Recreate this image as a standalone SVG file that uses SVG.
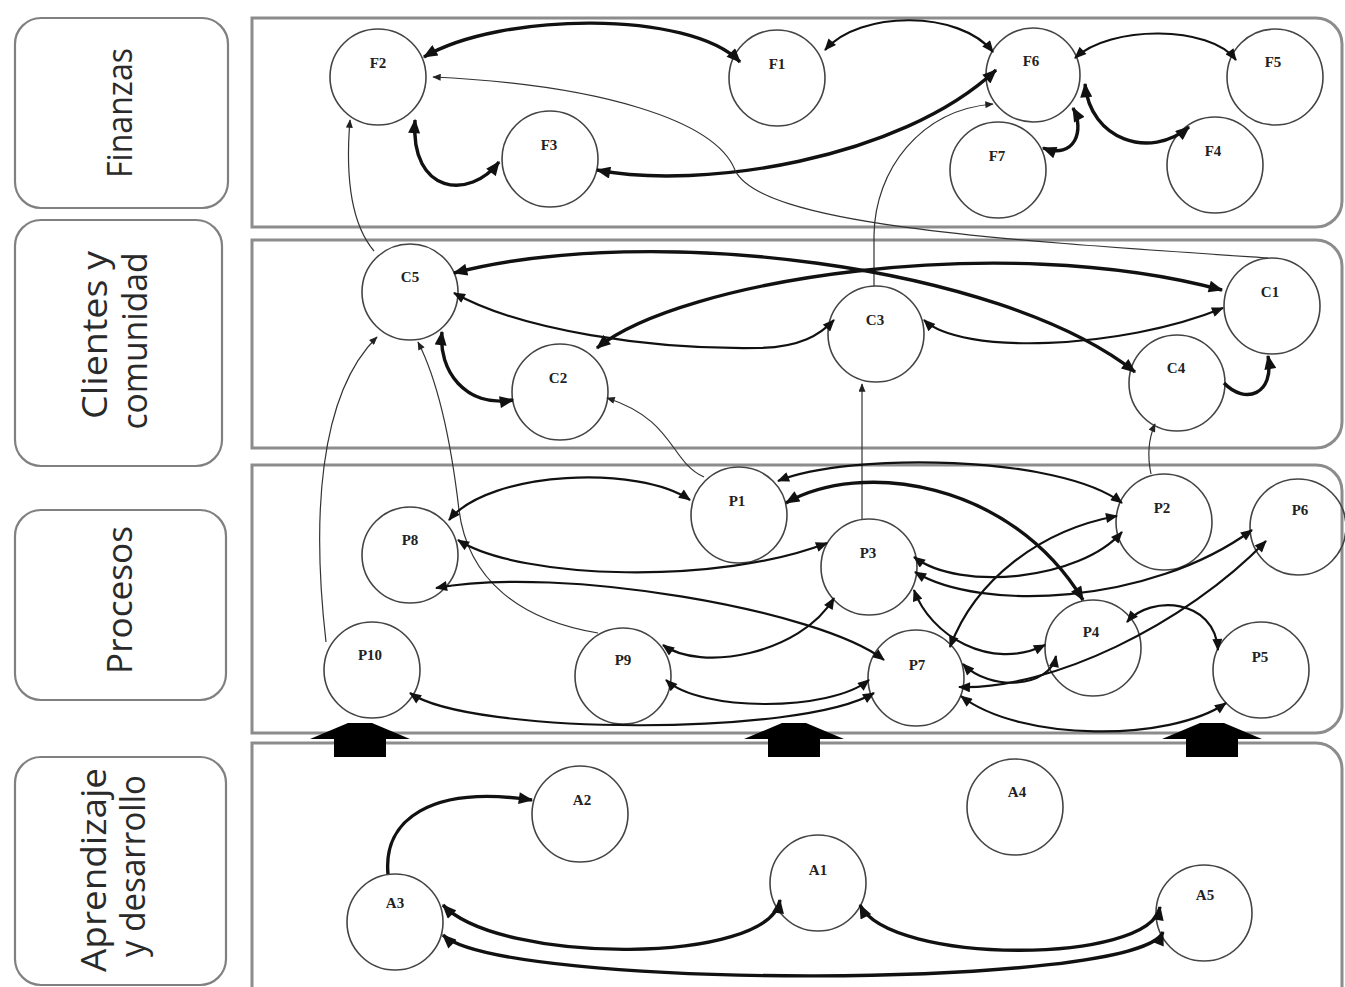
<svg xmlns="http://www.w3.org/2000/svg" width="1345" height="987" viewBox="0 0 1345 987">
<style>
.lanebox{fill:#fff;stroke:#808080;stroke-width:2.2}
.panel{fill:none;stroke:#8c8c8c;stroke-width:3}
.lane{font-family:"Open Sans","Liberation Sans",sans-serif;font-size:34px;fill:#2a2a2a}
.node circle{fill:none;stroke:#444;stroke-width:1.6}
.node text{font-family:"Liberation Serif","Times New Roman",serif;font-weight:bold;font-size:15px;fill:#222;text-anchor:middle}
.k{fill:none;stroke:#111;stroke-width:3.4}
.m{fill:none;stroke:#111;stroke-width:2.2}
.t{fill:none;stroke:#333;stroke-width:1.2}
.bi{marker-start:url(#ah);marker-end:url(#ah)}
.kbi{marker-start:url(#ahk);marker-end:url(#ahk)}
.kone{marker-end:url(#ahk)}
.tn{marker-end:url(#at)}
.big{fill:#000}
</style>
<defs>
<marker id="ah" viewBox="0 0 12 10" refX="11" refY="5" markerWidth="13" markerHeight="10" markerUnits="userSpaceOnUse" orient="auto-start-reverse"><path d="M0,0 L12,5 L0,10 z" fill="#111"/></marker>
<marker id="ahk" viewBox="0 0 12 10" refX="11" refY="5" markerWidth="16" markerHeight="12" markerUnits="userSpaceOnUse" orient="auto-start-reverse"><path d="M0,0 L12,5 L0,10 z" fill="#111"/></marker>
<marker id="at" viewBox="0 0 12 10" refX="11" refY="5" markerWidth="9" markerHeight="7" markerUnits="userSpaceOnUse" orient="auto-start-reverse"><path d="M0,0 L12,5 L0,10 z" fill="#222"/></marker>
<polygon id="bigarrow" class="big" points="-12,0 12,0 50,16 26,16 26,34 -26,34 -26,16 -50,16"/>
</defs>
<rect width="1345" height="987" fill="#fff"/>

<g id="lane-labels">
<g id="lane-finanzas"><rect class="lanebox" x="15" y="18" width="213" height="190" rx="26"/>
<text class="lane" transform="translate(132,113) rotate(-90)" text-anchor="middle" textLength="130" lengthAdjust="spacingAndGlyphs">Finanzas</text></g>
<g id="lane-clientes"><rect class="lanebox" x="15" y="220" width="207" height="246" rx="26"/>
<text class="lane" transform="translate(107,335) rotate(-90)" text-anchor="middle" textLength="168" lengthAdjust="spacingAndGlyphs">Clientes y</text>
<text class="lane" transform="translate(147,341) rotate(-90)" text-anchor="middle" textLength="177" lengthAdjust="spacingAndGlyphs">comunidad</text></g>
<g id="lane-procesos"><rect class="lanebox" x="15" y="510" width="211" height="190" rx="26"/>
<text class="lane" transform="translate(132,600) rotate(-90)" text-anchor="middle" textLength="148" lengthAdjust="spacingAndGlyphs">Procesos</text></g>
<g id="lane-aprendizaje"><rect class="lanebox" x="15" y="757" width="211" height="228" rx="26"/>
<text class="lane" transform="translate(106,870) rotate(-90)" text-anchor="middle" textLength="204" lengthAdjust="spacingAndGlyphs">Aprendizaje</text>
<text class="lane" transform="translate(145,866) rotate(-90)" text-anchor="middle" textLength="182" lengthAdjust="spacingAndGlyphs">y desarrollo</text></g>
</g>

<g id="panels">
<path class="panel" d="M252,18 H1316 A26,26 0 0 1 1342,44 V201 A26,26 0 0 1 1316,227 H252 Z"/>
<path class="panel" d="M252,240 H1316 A26,26 0 0 1 1342,266 V422 A26,26 0 0 1 1316,448 H252 Z"/>
<path class="panel" d="M252,465 H1316 A26,26 0 0 1 1342,491 V707 A26,26 0 0 1 1316,733 H252 Z"/>
<path class="panel" d="M252,1010 V743 H1316 A26,26 0 0 1 1342,769 V1010"/>
</g>

<g id="nodes">
<g id="F2" class="node"><circle cx="378" cy="77" r="48"/><text x="378" y="68">F2</text></g>
<g id="F1" class="node"><circle cx="777" cy="78" r="48"/><text x="777" y="69">F1</text></g>
<g id="F6" class="node"><circle cx="1033" cy="75" r="47"/><text x="1031" y="66">F6</text></g>
<g id="F5" class="node"><circle cx="1275" cy="77" r="48"/><text x="1273" y="67">F5</text></g>
<g id="F3" class="node"><circle cx="550" cy="159" r="48"/><text x="549" y="150">F3</text></g>
<g id="F7" class="node"><circle cx="998" cy="170" r="48"/><text x="997" y="161">F7</text></g>
<g id="F4" class="node"><circle cx="1215" cy="165" r="48"/><text x="1213" y="156">F4</text></g>
<g id="C5" class="node"><circle cx="410" cy="292" r="48"/><text x="410" y="282">C5</text></g>
<g id="C2" class="node"><circle cx="560" cy="392" r="48"/><text x="558" y="383">C2</text></g>
<g id="C3" class="node"><circle cx="876" cy="334" r="48"/><text x="875" y="325">C3</text></g>
<g id="C1" class="node"><circle cx="1272" cy="306" r="48"/><text x="1270" y="297">C1</text></g>
<g id="C4" class="node"><circle cx="1177" cy="383" r="48"/><text x="1176" y="373">C4</text></g>
<g id="P1" class="node"><circle cx="739" cy="515" r="48"/><text x="737" y="506">P1</text></g>
<g id="P2" class="node"><circle cx="1164" cy="522" r="48"/><text x="1162" y="513">P2</text></g>
<g id="P6" class="node"><circle cx="1298" cy="527" r="48"/><text x="1300" y="515">P6</text></g>
<g id="P8" class="node"><circle cx="410" cy="555" r="48"/><text x="410" y="545">P8</text></g>
<g id="P3" class="node"><circle cx="869" cy="567" r="48"/><text x="868" y="558">P3</text></g>
<g id="P4" class="node"><circle cx="1093" cy="648" r="48"/><text x="1091" y="637">P4</text></g>
<g id="P10" class="node"><circle cx="372" cy="670" r="48"/><text x="370" y="660">P10</text></g>
<g id="P9" class="node"><circle cx="623" cy="676" r="48"/><text x="623" y="665">P9</text></g>
<g id="P7" class="node"><circle cx="916" cy="678" r="48"/><text x="917" y="670">P7</text></g>
<g id="P5" class="node"><circle cx="1261" cy="670" r="48"/><text x="1260" y="662">P5</text></g>
<g id="A2" class="node"><circle cx="580" cy="814" r="48"/><text x="582" y="805">A2</text></g>
<g id="A4" class="node"><circle cx="1015" cy="807" r="48"/><text x="1017" y="797">A4</text></g>
<g id="A1" class="node"><circle cx="818" cy="883" r="48"/><text x="818" y="875">A1</text></g>
<g id="A3" class="node"><circle cx="395" cy="922" r="48"/><text x="395" y="908">A3</text></g>
<g id="A5" class="node"><circle cx="1204" cy="913" r="48"/><text x="1205" y="900">A5</text></g>
</g>

<g id="connectors">
<!-- Finanzas -->
<path class="k kbi" d="M740,62 C690,10 500,12 424,57"/>
<path class="m bi" d="M993,52 C960,10 860,10 825,50"/>
<path class="k kbi" d="M597,170 C700,190 900,160 996,70"/>
<path class="k kbi" d="M499,162 C470,200 410,195 415,120"/>
<path class="t tn" d="M1268,258 C1000,240 760,225 735,170 C715,120 600,85 433,77"/>
<path class="t tn" d="M374,251 C352,225 345,180 350,120"/>
<path class="t tn" d="M874,286 L874,235 C875,170 920,110 993,104"/>
<path class="m bi" d="M1075,58 C1110,25 1210,25 1236,60"/>
<path class="k kbi" d="M1189,127 C1150,160 1090,140 1085,84"/>
<path class="k kbi" d="M1043,148 C1075,160 1085,130 1073,108"/>
<!-- Clientes -->
<path class="k kbi" d="M454,273 C650,222 1000,265 1135,372"/>
<path class="k kbi" d="M597,348 C680,280 1000,230 1222,290"/>
<path class="m bi" d="M454,293 C520,330 650,350 760,348 C800,347 820,335 834,320"/>
<path class="m bi" d="M924,320 C960,355 1120,350 1223,308"/>
<path class="k kbi" d="M513,400 C465,408 438,370 442,332"/>
<path class="t tn" d="M704,477 C670,462 675,420 607,398"/>
<path class="k kone" d="M1224,383 C1245,405 1275,395 1268,356"/>
<path class="t tn" d="M1151,474 C1147,455 1148,440 1155,424"/>
<path class="t tn" d="M862,519 L862,384"/>
<path class="t tn" d="M326,642 C312,520 318,395 377,337"/>
<path class="t tn" d="M598,633 C520,620 468,580 459,510 C452,450 440,385 418,342"/>
<!-- Procesos -->
<path class="m bi" d="M449,520 C490,470 640,465 690,500"/>
<path class="m bi" d="M458,540 C520,580 720,585 827,543"/>
<path class="m bi" d="M884,660 C820,610 560,565 436,588"/>
<path class="m bi" d="M663,645 C700,672 800,655 834,598"/>
<path class="m bi" d="M666,680 C700,712 830,712 869,680"/>
<path class="m bi" d="M410,693 C470,735 800,737 874,693"/>
<path class="m bi" d="M778,481 C850,452 1060,455 1122,503"/>
<path class="k kbi" d="M786,503 C860,460 1010,480 1083,600"/>
<path class="m bi" d="M914,557 C960,592 1080,580 1122,532"/>
<path class="m bi" d="M915,572 C980,612 1150,605 1252,530"/>
<path class="m bi" d="M914,590 C930,635 990,672 1045,645"/>
<path class="m bi" d="M950,647 C975,580 1040,530 1117,516"/>
<path class="m bi" d="M963,664 C990,692 1050,688 1056,656"/>
<path class="m bi" d="M959,687 C1050,690 1185,625 1266,541"/>
<path class="m bi" d="M961,696 C1020,742 1170,742 1226,703"/>
<path class="m bi" d="M1127,622 C1150,595 1215,598 1218,650"/>
<!-- Aprendizaje -->
<path class="k kone" d="M388,874 C383,820 430,785 532,800"/>
<path class="k kbi" d="M780,900 C770,965 500,965 443,905"/>
<path class="k kbi" d="M1160,907 C1150,965 890,965 860,905"/>
<path class="k kbi" d="M1163,932 C1140,990 500,990 443,935"/>
</g>

<g id="level-arrows">
<use href="#bigarrow" x="360" y="723"/>
<use href="#bigarrow" x="794" y="723"/>
<use href="#bigarrow" x="1212" y="723"/>
</g>
</svg>
